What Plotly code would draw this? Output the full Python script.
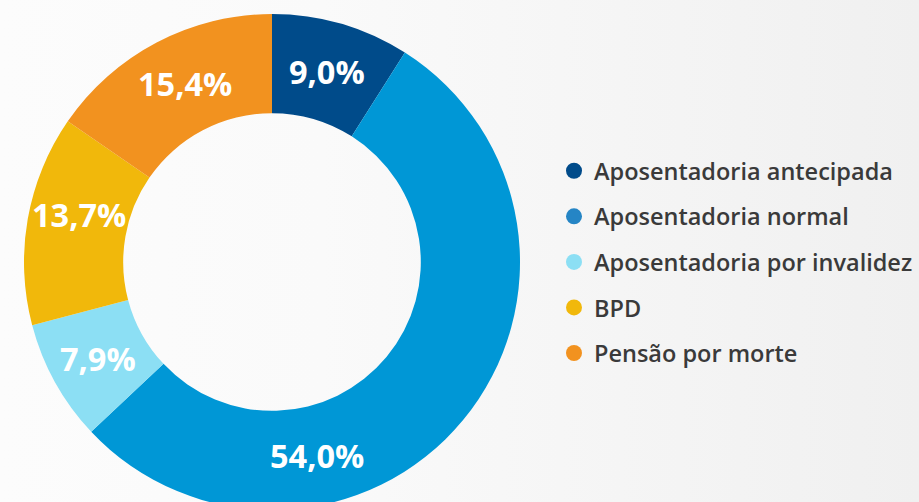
import math
import plotly.graph_objects as go

categories = ["Aposentadoria antecipada", "Aposentadoria normal", "Aposentadoria por invalidez", "BPD", "Pensão por morte"]
values = [9.0, 54.0, 7.9, 13.7, 15.4]
slice_colors = ["#004B8A", "#0097D6", "#8CDFF4", "#F1B80B", "#F2921F"]
legend_colors = ["#004B8A", "#2585C5", "#8CDFF4", "#F1B80B", "#F2921F"]
# label angle overrides (degrees clockwise from 12 o'clock); others use the slice's middle angle
label_angle_override = {"Aposentadoria normal": 167, "BPD": 284, "Pensão por morte": 334}

W, H = 919, 512
HOLE = 0.6
dom_x = [24 / W, 520 / W]
dom_y = [1 - 510 / H, 1 - 14 / H]

fig = go.Figure()
fig.add_trace(go.Pie(
    labels=categories,
    values=values,
    sort=False,
    direction="clockwise",
    rotation=0,
    hole=HOLE,
    marker=dict(colors=slice_colors, line=dict(width=0)),
    textinfo="none",
    showlegend=False,
    hoverinfo="label+percent",
    domain=dict(x=dom_x, y=dom_y),
))

# value labels on the ring's mid radius
cx_px = (dom_x[0] + dom_x[1]) / 2 * W
cy_px = (1 - (dom_y[0] + dom_y[1]) / 2) * H
r_px = min((dom_x[1] - dom_x[0]) * W, (dom_y[1] - dom_y[0]) * H) / 2
r_mid = r_px * (1 + HOLE) / 2
total = sum(values)
cum = 0.0
for name, v in zip(categories, values):
    mid = (cum + v / 2) / total * 360
    cum += v
    ang = math.radians(label_angle_override.get(name, mid))
    lx = cx_px + r_mid * math.sin(ang)
    ly = cy_px - r_mid * math.cos(ang)
    fig.add_annotation(
        x=lx / W, y=1 - ly / H, xref="paper", yref="paper",
        text=f"{v:.1f}".replace(".", ",") + "%",
        showarrow=False,
        font=dict(family="Open Sans", size=32.5, color="white", weight="bold"),
        xanchor="center", yanchor="middle",
    )

for name, col in zip(categories, legend_colors):
    fig.add_trace(go.Scatter(
        x=[None], y=[None], mode="markers", name=name, legendgroup=name,
        marker=dict(symbol="circle", size=18, color=col),
        showlegend=True, hoverinfo="skip",
    ))

fig.update_layout(
    width=W, height=H,
    margin=dict(l=0, r=0, t=0, b=0),
    paper_bgcolor="rgba(0,0,0,0)",
    plot_bgcolor="rgba(0,0,0,0)",
    separators=",.",
    xaxis=dict(visible=False),
    yaxis=dict(visible=False),
    legend=dict(
        x=554 / W, y=1 - 149 / H, xanchor="left", yanchor="top",
        font=dict(family="Open Sans", size=23.5, color="#3a3a3a", weight=600),
        tracegroupgap=12,
        bgcolor="rgba(0,0,0,0)",
        itemsizing="trace",
    ),
)

fig.write_html(
    "out.html",
    config={"displayModeBar": False},
    post_script=(
        "document.body.style.margin='0';"
        "document.body.style.overflow='hidden';"
        "document.body.style.background='linear-gradient(to right, #fcfcfc 0%, #fafafa 35%, #f0f0f0 100%)';"
    ),
)
